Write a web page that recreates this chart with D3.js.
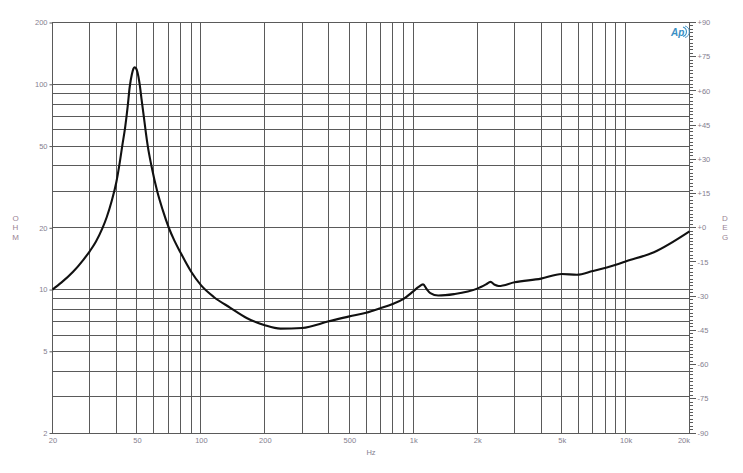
<!DOCTYPE html>
<html><head><meta charset="utf-8">
<script src="https://cdn.jsdelivr.net/npm/d3@7"></script>
<style>
html,body{margin:0;padding:0;background:#fff;}
svg{display:block;}
text{font-family:Arial,"Liberation Sans",sans-serif;}
</style></head>
<body>
<script>
// ---- data ----
const freqHz = [20,22,25,28,30,32,34.3,36,38,40,41.3,42.6,44,45.2,46.2,47.3,48.1,48.8,49.5,50.3,51.4,52.5,53.8,55,56.2,58.5,62.3,66,70.6,75,80,90,100,115,137.6,165,200,237,300,400,500,600,700,800,900,1000,1060,1112,1160,1204,1311,1556,2000,2200,2312,2420,2527,3000,4000,5000,5900,7000,9000,10000,13600,20000];
const impedanceOhm = [10.0,10.8,12.2,14.0,15.4,17.1,19.8,22.5,27,33.5,40.5,50,62,78,97,112,119,121,119.5,114,101,85,70,58.5,50,40,30,24.5,20,17.3,15.2,12.2,10.5,9.2,8.15,7.25,6.7,6.45,6.5,7.0,7.4,7.7,8.1,8.5,9.0,9.8,10.3,10.6,10.0,9.6,9.35,9.5,10.1,10.6,10.9,10.55,10.4,10.85,11.3,11.9,11.8,12.3,13.2,13.7,15.2,19.2];
const xGridHz = [30,40,50,60,70,80,90,100,200,300,400,500,600,700,800,900,1000,2000,3000,4000,5000,6000,7000,8000,9000,10000];
const yGridOhm = [100,90,80,70,60,50,40,30,20,10,9,8,7,6,5,4,3];
const xTickHz = [20,50,100,200,500,1000,2000,5000,10000,20000];
const xTickLabels = ["20","50","100","200","500","1k","2k","5k","10k","20k"];
const yTickOhm = [200,100,50,20,10,5,2];
const degTicks = [90,75,60,45,30,15,0,-15,-30,-45,-60,-75,-90];
const degTickLabels = ["+90","+75","+60","+45","+30","+15","+0","-15","-30","-45","-60","-75","-90"];

const W = 743, H = 473;
const L = 52.5, R = 689.5, T = 22.5, B = 433;
const gridCol = "#5a5a5a", labCol = "#85808f";

const svg = d3.select("body").append("svg").attr("width", W).attr("height", H);

const x = d3.scaleLog().domain([20, 20000]).range([L, R]);
const y = d3.scaleLog().domain([2, 200]).range([B, T]);
const yDeg = d3.scaleLinear().domain([-90, 90]).range([B, T]);

const snap = v => Math.round(v - 0.5) + 0.5;

// grid
const g = svg.append("g").attr("stroke", gridCol).attr("stroke-width", 1).attr("shape-rendering", "crispEdges");
g.selectAll("line.v").data(xGridHz).join("line")
  .attr("x1", d => snap(x(d))).attr("x2", d => snap(x(d)))
  .attr("y1", T).attr("y2", B);
g.selectAll("line.h").data(yGridOhm).join("line")
  .attr("y1", d => snap(y(d))).attr("y2", d => snap(y(d)))
  .attr("x1", L).attr("x2", R);
g.append("rect").attr("x", L).attr("y", T).attr("width", R - L).attr("height", B - T).attr("fill", "none");

// left axis
const leftAxis = d3.axisLeft(y).tickValues(yTickOhm).tickFormat(d3.format("d")).tickSize(3).tickPadding(2);
const la = svg.append("g").attr("transform", `translate(${L},0)`).call(leftAxis);
la.select(".domain").remove();
la.selectAll(".tick line").attr("stroke", gridCol);
la.selectAll(".tick text").attr("fill", labCol).attr("font-size", 7.5).attr("font-family", "Arial, Liberation Sans, sans-serif");

// bottom axis
const botAxis = d3.axisBottom(x).tickValues(xTickHz).tickFormat((d, i) => xTickLabels[i]).tickSize(0).tickPadding(5);
const ba = svg.append("g").attr("transform", `translate(0,${B})`).call(botAxis);
ba.select(".domain").remove();
ba.selectAll(".tick text").attr("fill", labCol).attr("font-size", 7.5).attr("font-family", "Arial, Liberation Sans, sans-serif")
  .attr("dx", (d) => d === 20000 ? -6 : 0);

// right axis (degrees)
const minorDeg = d3.range(-90, 90.01, 1.5);
const ra = svg.append("g").attr("stroke", gridCol).attr("shape-rendering", "crispEdges");
ra.selectAll("line").data(minorDeg).join("line")
  .attr("x1", R).attr("x2", d => R + (Math.abs(d % 15) < 1e-6 ? 6 : 3))
  .attr("y1", d => snap(yDeg(d))).attr("y2", d => snap(yDeg(d)));
svg.append("g").selectAll("text").data(degTicks).join("text")
  .attr("x", R + 8).attr("y", d => yDeg(d)).attr("dy", "0.35em")
  .attr("fill", labCol).attr("font-size", 7.5)
  .text((d, i) => degTickLabels[i]);

// axis titles
svg.append("text").attr("x", 371).attr("y", 452).attr("dy", "0.35em").attr("text-anchor", "middle")
  .attr("fill", labCol).attr("font-size", 7.5).text("Hz");
const ohm = svg.append("text").attr("fill", "#9a8494").attr("font-size", 8).attr("text-anchor", "middle");
["O","H","M"].forEach((c, i) => ohm.append("tspan").attr("x", 15.5).attr("y", 221 + i * 9.3).text(c));
const deg = svg.append("text").attr("fill", "#9a8494").attr("font-size", 8).attr("text-anchor", "middle");
["D","E","G"].forEach((c, i) => deg.append("tspan").attr("x", 725).attr("y", 221 + i * 9.3).text(c));

// logo
const logo = svg.append("g").attr("fill", "none").attr("stroke", "#3a8fc4");
logo.append("text").attr("x", 671).attr("y", 35.5).attr("fill", "#3a8fc4").attr("stroke", "none")
  .attr("font-size", 10).attr("font-style", "italic").attr("font-weight", "bold").text("Ap");
logo.append("path").attr("stroke-width", 1.1).attr("d", "M683,27 A5,5 0 0 1 683,36.5");
logo.append("path").attr("stroke-width", 0.9).attr("d", "M685,26 A6,6 0 0 1 685,37.5");

// impedance curve
const data = freqHz.map((f, i) => [f, impedanceOhm[i]]);
svg.append("path").datum(data)
  .attr("fill", "none").attr("stroke", "#111").attr("stroke-width", 2.1).attr("stroke-linejoin", "round")
  .attr("d", d3.line().x(d => x(d[0])).y(d => y(d[1])).curve(d3.curveMonotoneX));
</script>
</body></html>
